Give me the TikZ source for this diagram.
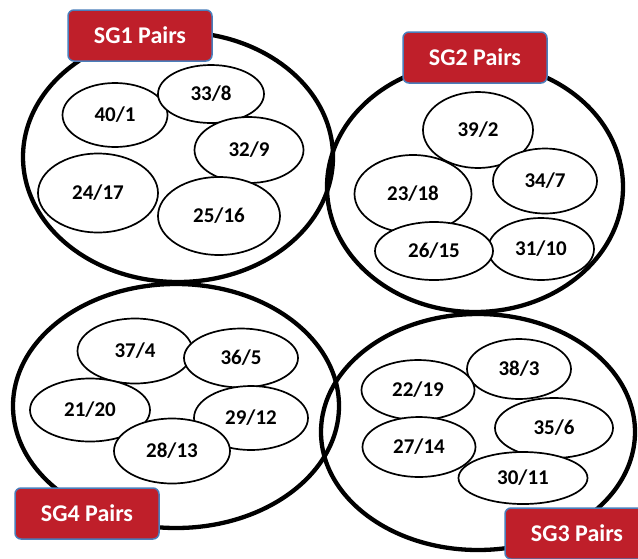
\documentclass[tikz,border=0pt]{standalone}
\usepackage{fontspec}
\setmainfont{Carlito}
\usetikzlibrary{shapes.geometric}
\definecolor{tagred}{HTML}{BF1F2A}
\definecolor{tagedge}{HTML}{4A7EBB}
\tikzset{
  group/.style n args={2}{ellipse, draw=black, line width=4.3pt, inner sep=0pt,
    minimum width=#1pt, minimum height=#2pt},
  pair/.style n args={2}{ellipse, draw=black, line width=1.7pt, fill=white,
    inner sep=0pt, minimum width=#1pt, minimum height=#2pt,
    font=\bfseries\fontsize{21}{21}\selectfont},
  tag/.style={rectangle, rounded corners=6pt, fill=tagred, draw=tagedge,
    line width=1.5pt, text=white, inner sep=0pt,
    minimum width=144pt, minimum height=51pt,
    font=\bfseries\fontsize{24}{24}\selectfont}
}
\begin{document}
\begin{tikzpicture}[x=1pt,y=-1pt]
  \useasboundingbox (0,0) rectangle (638,558);
  \fill[white] (0,0) rectangle (638,558);

  % the four subgroup circles
  \node[group={310}{250}] (g1) at (178,157) {};
  \node[group={296}{250}] (g2) at (475,187) {};
  \node[group={326}{244}] (g4) at (176,406) {};
  \node[group={314}{236}] (g3) at (478,432) {};

  % SG1 pairs
  \node[pair={105}{64}]  (p40) at (115,115) {40/1};
  \node[pair={106}{58}]  (p33) at (211,94)  {33/8};
  \node[pair={109}{66}]  (p32) at (249,150) {32/9};
  \node[pair={120}{79}]  (p24) at (98,193)  {24/17};
  \node[pair={122}{78}]  (p25) at (219,216) {25/16};

  % SG2 pairs
  \node[pair={110}{76}]  (p39) at (478,130) {39/2};
  \node[pair={117}{78}]  (p23) at (413,194) {23/18};
  \node[pair={104}{65}]  (p34) at (545,181) {34/7};
  \node[pair={106}{62}]  (p31) at (541,249) {31/10};
  \node[pair={118}{58}]  (p26) at (434,251) {26/15};

  % SG4 pairs
  \node[pair={115}{65}]  (p37) at (135,351) {37/4};
  \node[pair={114}{59}]  (p36) at (241,358) {36/5};
  \node[pair={120}{63}]  (p21) at (90,410)  {21/20};
  \node[pair={114}{64}]  (p29) at (251,418) {29/12};
  \node[pair={116}{65}]  (p28) at (172,451) {28/13};

  % SG3 pairs
  \node[pair={104}{60}]  (p38) at (519,369) {38/3};
  \node[pair={113}{60}]  (p22) at (418,390) {22/19};
  \node[pair={118}{60}]  (p35) at (554,428) {35/6};
  \node[pair={113}{60}]  (p27) at (419,447) {27/14};
  \node[pair={129}{52}]  (p30) at (523,478) {30/11};

  % subgroup tags
  \node[tag] (t1) at (140,35.5)  {SG1 Pairs};
  \node[tag] (t2) at (475,57.5)  {SG2 Pairs};
  \node[tag] (t4) at (87,513.5)  {SG4 Pairs};
  \node[tag] (t3) at (577,533.5) {SG3 Pairs};
\end{tikzpicture}
\end{document}
